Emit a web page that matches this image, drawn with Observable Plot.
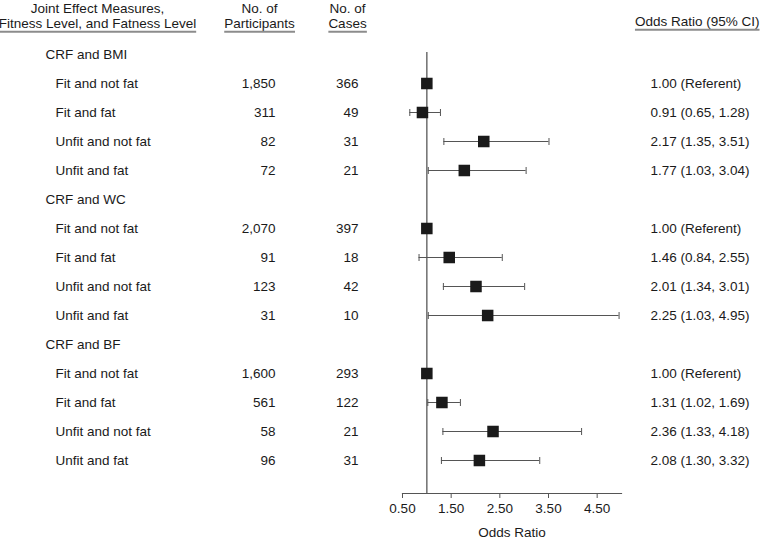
<!DOCTYPE html>
<html>
<head>
<meta charset="utf-8">
<script src="https://cdn.jsdelivr.net/npm/d3@7"></script>
<script src="https://cdn.jsdelivr.net/npm/@observablehq/plot@0.6"></script>
<style>
  html, body { margin: 0; padding: 0; background: #fff; }
  #chart svg { display: block; }
</style>
</head>
<body>
<div id="chart"></div>
<script>
// ---- data ----
const groups = ["CRF and BMI", "CRF and WC", "CRF and BF"];
const levels = ["Fit and not fat", "Fit and fat", "Unfit and not fat", "Unfit and fat"];
const participants = [[1850, 311, 82, 72], [2070, 91, 123, 31], [1600, 561, 58, 96]];
const cases = [[366, 49, 31, 21], [397, 18, 42, 10], [293, 122, 21, 31]];
const oddsRatio = [[1.00, 0.91, 2.17, 1.77], [1.00, 1.46, 2.01, 2.25], [1.00, 1.31, 2.36, 2.08]];
const ciLow = [[null, 0.65, 1.35, 1.03], [null, 0.84, 1.34, 1.03], [null, 1.02, 1.33, 1.30]];
const ciHigh = [[null, 1.28, 3.51, 3.04], [null, 2.55, 3.01, 4.95], [null, 1.69, 4.18, 3.32]];
const xTicks = [0.5, 1.5, 2.5, 3.5, 4.5];
const xDomain = [0.5, 5.0];
const headerCol1 = ["Joint Effect Measures,", "Fitness Level, and Fatness Level"];
const headerCol2 = ["No. of", "Participants"];
const headerCol3 = ["No. of", "Cases"];
const headerCol4 = "Odds Ratio (95% CI)";
const axisTitle = "Odds Ratio";

// ---- build table ----
const fmtInt = d3.format(",");
const fmt2 = d3.format(".2f");
const headRows = [];
const rows = [];
const ids = [];
groups.forEach((g, gi) => {
  const gid = "g" + gi;
  ids.push(gid);
  headRows.push({id: gid, label: g});
  levels.forEach((l, li) => {
    const id = gid + "-" + li;
    ids.push(id);
    const or = oddsRatio[gi][li], lo = ciLow[gi][li], hi = ciHigh[gi][li];
    rows.push({
      id, label: l,
      n: fmtInt(participants[gi][li]),
      cases: String(cases[gi][li]),
      or, lo, hi,
      orText: lo == null ? `${fmt2(or)} (Referent)` : `${fmt2(or)} (${fmt2(lo)}, ${fmt2(hi)})`
    });
  });
});
const ciRows = rows.filter(d => d.lo != null);

// vertical cap symbol for CI whiskers
const capSymbol = {draw(ctx) { ctx.moveTo(0, -3.5); ctx.lineTo(0, 3.5); }};

const font = "'Liberation Sans', Arial, Helvetica, sans-serif";
const ink = "#1a1a1a";

const chart = Plot.plot({
  width: 761,
  height: 539,
  marginLeft: 402,
  marginRight: 140,
  marginTop: 52,
  marginBottom: 46,
  style: {fontFamily: font, fontSize: "13.5px", color: ink, background: "#fff", overflow: "visible"},
  x: {domain: xDomain, label: null},
  y: {type: "point", domain: ids, range: [54, 460], padding: 0, axis: null},
  marks: [
    // column headers
    Plot.text([headerCol1[0]], {frameAnchor: "top-left", dx: -305, dy: -44, lineAnchor: "middle", textAnchor: "middle", fill: ink}),
    Plot.text([headerCol1[1]], {frameAnchor: "top-left", dx: -305, dy: -29, lineAnchor: "middle", textAnchor: "middle", fill: ink}),
    Plot.text([headerCol2[0]], {frameAnchor: "top-left", dx: -143, dy: -44, lineAnchor: "middle", textAnchor: "middle", fill: ink}),
    Plot.text([headerCol2[1]], {frameAnchor: "top-left", dx: -143, dy: -29, lineAnchor: "middle", textAnchor: "middle", fill: ink}),
    Plot.text([headerCol3[0]], {frameAnchor: "top-left", dx: -55, dy: -44, lineAnchor: "middle", textAnchor: "middle", fill: ink}),
    Plot.text([headerCol3[1]], {frameAnchor: "top-left", dx: -55, dy: -29, lineAnchor: "middle", textAnchor: "middle", fill: ink}),
    Plot.text([headerCol4], {frameAnchor: "top-right", dx: 138, dy: -31, lineAnchor: "middle", textAnchor: "end", fill: ink}),
    // group headers
    Plot.text(headRows, {y: "id", text: "label", frameAnchor: "left", dx: -357, textAnchor: "start", fill: ink}),
    // row labels and counts
    Plot.text(rows, {y: "id", text: "label", frameAnchor: "left", dx: -347, textAnchor: "start", fill: ink}),
    Plot.text(rows, {y: "id", text: "n", frameAnchor: "left", dx: -127, textAnchor: "end", fill: ink}),
    Plot.text(rows, {y: "id", text: "cases", frameAnchor: "left", dx: -44, textAnchor: "end", fill: ink}),
    Plot.text(rows, {y: "id", text: "orText", frameAnchor: "right", dx: 29, textAnchor: "start", fill: ink}),
    // reference line
    Plot.ruleX([1], {stroke: "#6e6e6e", strokeWidth: 1.5}),
    // x axis line + ticks
    Plot.frame({anchor: "bottom", stroke: "#555", strokeWidth: 1.2}),
    Plot.axisX({ticks: xTicks, tickFormat: fmt2, tickSize: 5, tickPadding: 5, stroke: "#555", fill: ink, label: null}),
    Plot.text([axisTitle], {frameAnchor: "bottom", dy: 39, lineAnchor: "middle", textAnchor: "middle", fill: ink}),
    // confidence intervals
    Plot.ruleY(ciRows, {y: "id", x1: "lo", x2: "hi", stroke: "#555", strokeWidth: 1}),
    Plot.dot(ciRows, {y: "id", x: "lo", symbol: capSymbol, stroke: "#555", strokeWidth: 1, fill: "none"}),
    Plot.dot(ciRows, {y: "id", x: "hi", symbol: capSymbol, stroke: "#555", strokeWidth: 1, fill: "none"}),
    // point estimates
    Plot.dot(rows, {y: "id", x: "or", symbol: "square", r: 6.5, fill: ink, stroke: null})
  ]
});

document.getElementById("chart").appendChild(chart);

// grey underline rules beneath the header texts, sized from each text's own box
const underlined = new Set([headerCol1[1], headerCol2[1], headerCol3[1], headerCol4]);
const svg = d3.select(chart);
const rules = svg.append("g").attr("stroke", "#8c8c8c").attr("stroke-width", 2);
svg.selectAll("text").each(function () {
  if (underlined.has(this.textContent)) {
    const b = this.getBBox();
    const m = this.getCTM();
    const x0 = b.x + (m ? m.e : 0), x1 = x0 + b.width;
    const yy = b.y + b.height + (m ? m.f : 0) + 1;
    rules.append("line").attr("x1", x0).attr("x2", x1).attr("y1", yy).attr("y2", yy);
  }
});
</script>
</body>
</html>
